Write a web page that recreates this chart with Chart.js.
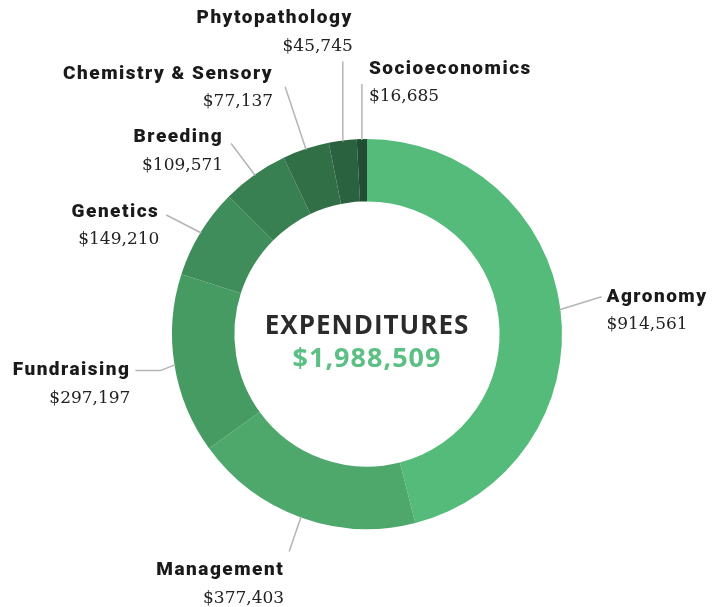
<!DOCTYPE html>
<html>
<head>
<meta charset="utf-8">
<script src="https://cdn.jsdelivr.net/npm/chart.js@4/dist/chart.umd.min.js"></script>
<style>
  html, body { margin: 0; padding: 0; background: #fff; }
  #wrap { width: 718px; height: 607px; position: relative; }
</style>
</head>
<body>
<div id="wrap"><canvas id="chart"></canvas></div>
<script>
// expenditure categories, clockwise from the top
const categories = ['Agronomy', 'Management', 'Fundraising', 'Genetics', 'Breeding',
                    'Chemistry & Sensory', 'Phytopathology', 'Socioeconomics'];
const amounts = [914561, 377403, 297197, 149210, 109571, 77137, 45745, 16685];
const totalLabel = '$1,988,509';
const centerTitle = 'EXPENDITURES';

const colors = ['#55bb7a', '#4ea86c', '#469b62', '#3f8d5a', '#387f51', '#316f47', '#2a613e', '#214d32'];

// leader line layout per slice: [dx, dy, tail, align, tx, ty]
const leaderLayout = [
    [42, -13, 0, 'left', 5, 0],
    [-12, 35, 0, 'right', -5, 19],
    [-15, 6, -25, 'right', -5, 0],
    [-35, -18, 0, 'right', -7, -3],
    [-24, -32, 0, 'right', -8, -6],
    [-21, -63, 0, 'right', -12, -13],
    [0, -80, 0, 'right', 10, -43],
    [0, -56, 0, 'left', 7, -15]
];

const money = v => '$' + v.toLocaleString('en-US');

const calloutPlugin = {
    id: 'callouts',
    afterDraw(chart) {
        const ctx = chart.ctx;
        const arcs = chart.getDatasetMeta(0).data;
        ctx.save();
        arcs.forEach((arc, i) => {
            const p = arc.getProps(['x', 'y', 'startAngle', 'endAngle', 'outerRadius'], true);
            const mid = (p.startAngle + p.endAngle) / 2;
            const ax = p.x + Math.cos(mid) * (p.outerRadius - 1);
            const ay = p.y + Math.sin(mid) * (p.outerRadius - 1);
            const [dx, dy, tail, align, tx, ty] = leaderLayout[i];
            const ex = ax + dx, ey = ay + dy;
            ctx.strokeStyle = '#b4b4b4';
            ctx.lineWidth = 1.5;
            ctx.beginPath();
            ctx.moveTo(ax, ay);
            ctx.lineTo(ex, ey);
            if (tail) ctx.lineTo(ex + tail, ey);
            ctx.stroke();

            const lx = ex + tail + tx, ly = ey + ty;
            ctx.textAlign = align;
            ctx.textBaseline = 'middle';
            ctx.fillStyle = '#1a1a1a';
            ctx.font = '900 19px Roboto, "DejaVu Sans"';
            ctx.letterSpacing = '1.5px';
            ctx.fillText(categories[i], lx, ly);
            ctx.letterSpacing = '0px';
            ctx.font = '17px "DejaVu Serif"';
            ctx.fillStyle = '#222';
            ctx.fillText(money(amounts[i]), lx, ly + 28);
        });

        // centre text
        const c = arcs[0].getProps(['x', 'y'], true);
        ctx.textAlign = 'center';
        ctx.textBaseline = 'middle';
        ctx.letterSpacing = '1px';
        ctx.font = 'bold 26px "Open Sans"';
        ctx.fillStyle = '#2b2b2b';
        ctx.fillText(centerTitle, c.x, c.y - 7);
        ctx.font = 'bold 27px "Open Sans"';
        ctx.fillStyle = '#5cc085';
        ctx.fillText(totalLabel, c.x, c.y + 25);
        ctx.restore();
    }
};

new Chart(document.getElementById('chart'), {
    type: 'doughnut',
    data: {
        labels: categories,
        datasets: [{
            data: amounts,
            backgroundColor: colors,
            borderWidth: 0
        }]
    },
    options: {
        responsive: true,
        maintainAspectRatio: false,
        animation: false,
        cutout: '68%',
        layout: { padding: { left: 172, right: 156, top: 139, bottom: 78 } },
        plugins: {
            legend: { display: false },
            tooltip: { enabled: false }
        }
    },
    plugins: [calloutPlugin]
});
</script>
</body>
</html>
